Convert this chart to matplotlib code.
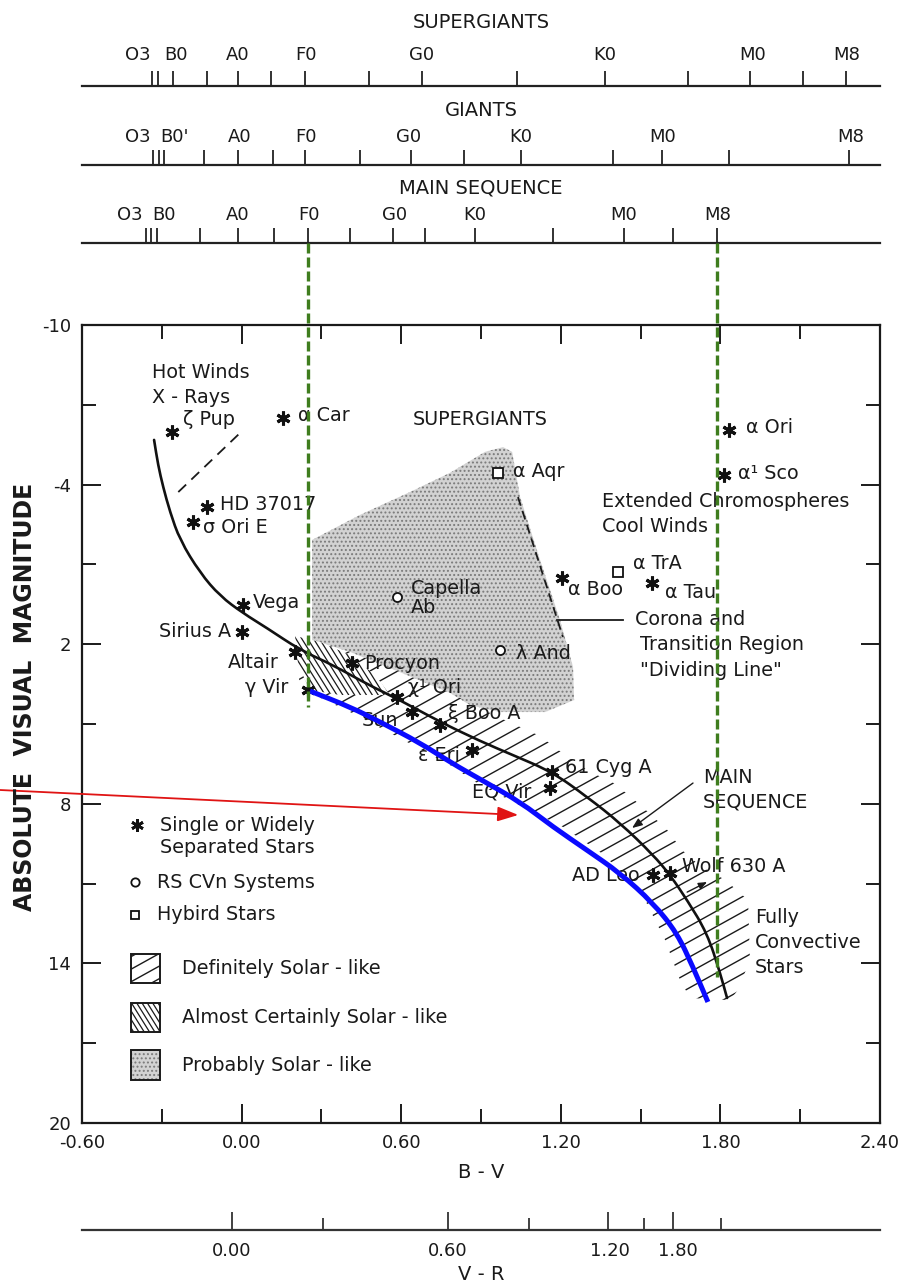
import numpy as np
import matplotlib
matplotlib.use("Agg")
import matplotlib.pyplot as plt
from matplotlib.patches import Polygon, Rectangle, PathPatch
from matplotlib.path import Path
from matplotlib.collections import LineCollection
from matplotlib.ticker import FixedLocator, FuncFormatter

plt.rcParams['font.family'] = ['DejaVu Sans']
plt.rcParams['axes.unicode_minus'] = False
plt.rcParams['hatch.linewidth'] = 0.9

# ---------------- spectral-type scales (positions in B-V) ----------------
sg_ticks = [-0.337, -0.314, -0.258, -0.130, -0.014, 0.111, 0.238, 0.479, 0.678,
            1.036, 1.366, 1.678, 1.911, 2.110, 2.272]
sg_types = ["O3", "B0", "A0", "F0", "G0", "K0", "M0", "M8"]
sg_type_bv = [-0.389, -0.248, -0.014, 0.241, 0.678, 1.365, 1.923, 2.276]

gi_ticks = [-0.333, -0.310, -0.292, -0.141, -0.014, 0.118, 0.238, 0.445, 0.637,
            0.836, 1.050, 1.396, 1.580, 1.832, 2.283]
gi_types = ["O3", "B0'", "A0", "F0", "G0", "K0", "M0", "M8"]
gi_type_bv = [-0.389, -0.254, -0.006, 0.241, 0.629, 1.049, 1.584, 2.288]

ms_ticks = [-0.359, -0.341, -0.318, -0.156, -0.014, 0.122, 0.250, 0.407, 0.569,
            0.689, 0.877, 1.170, 1.437, 1.621, 1.786]
ms_types = ["O3", "B0", "A0", "F0", "G0", "K0", "M0", "M8"]
ms_type_bv = [-0.420, -0.292, -0.014, 0.255, 0.576, 0.876, 1.437, 1.789]

# V-R scale expressed along the B-V axis
vr_ticks = [-0.036, 0.306, 0.776, 1.080, 1.377, 1.513, 1.621, 1.802]
vr_major = [True, False, True, False, True, False, True, False]
vr_labels = ["0.00", "0.60", "1.20", "1.80"]
vr_label_bv = [-0.036, 0.776, 1.385, 1.640]

# ---------------- curves ----------------
ms_bv = [-0.329, -0.314, -0.295, -0.269, -0.232, -0.156, -0.081, 0.005, 0.095,
         0.220, 0.343, 0.471, 0.595, 0.746, 0.896, 1.020, 1.167, 1.299, 1.423,
         1.547, 1.611, 1.675, 1.750, 1.799, 1.825]
ms_mv = [-5.68, -4.74, -3.91, -2.97, -1.92, -0.68, 0.19, 0.83, 1.39,
         2.22, 2.78, 3.50, 4.10, 4.92, 5.64, 6.17, 6.80, 7.74, 8.72,
         9.92, 10.68, 11.62, 12.86, 14.36, 15.30]

blue_bv = [0.257, 0.408, 0.520, 0.671, 0.783, 0.915, 1.047, 1.171, 1.298,
           1.422, 1.547, 1.637, 1.697, 1.753]
blue_mv = [3.76, 4.36, 4.92, 5.71, 6.43, 7.18, 7.93, 8.87, 9.74,
           10.60, 11.73, 12.86, 14.14, 15.45]

# "Definitely solar-like" band
band_bv = [0.205, 0.408, 0.595, 0.783, 0.971, 1.122, 1.216, 1.310, 1.393, 1.460,
           1.528, 1.600, 1.656, 1.724, 1.818, 1.904, 1.911, 1.866, 1.836, 1.686,
           1.648, 1.592, 1.517, 1.423, 1.347, 1.197, 1.095, 0.896, 0.783, 0.595,
           0.408, 0.257, 0.219]
band_mv = [1.69, 2.29, 3.05, 3.83, 4.77, 5.45, 6.17, 6.80, 7.18, 7.71,
           8.31, 8.98, 9.74, 10.34, 10.86, 11.62, 13.87, 15.00, 15.38, 15.30,
           14.62, 13.12, 11.62, 10.49, 9.81, 8.80, 8.31, 7.29, 6.54, 5.53,
           4.55, 3.83, 3.72]

# "Almost certainly solar-like" patch
dense_bv = [0.201, 0.295, 0.408, 0.502, 0.558, 0.370, 0.257, 0.212]
dense_mv = [1.69, 1.92, 2.41, 3.16, 3.91, 3.91, 3.72, 2.78]

# "Probably solar-like" region
stip_bv = [0.265, 0.445, 0.633, 0.783, 0.915, 0.983, 1.017, 1.047, 1.122, 1.197,
           1.246, 1.250, 1.141, 0.971, 0.859, 0.783, 0.595, 0.408, 0.265]
stip_mv = [-1.92, -2.86, -3.72, -4.44, -5.23, -5.41, -5.23, -3.53, -1.17, 1.09,
           2.86, 4.10, 4.55, 4.55, 4.29, 3.83, 3.05, 2.29, 1.84]

# dividing line and guide lines
divide_bv = [1.039, 1.208]
divide_mv = [-3.53, 1.73]
hotwind_bv = [-0.238, -0.006]
hotwind_mv = [-3.72, -5.94]

# ---------------- stars ----------------
star_names = ["ζ Pup", "α Car", "HD 37017", "σ Ori E", "Vega", "Sirius A", "Altair",
              "γ Vir", "Procyon", "χ¹ Ori", "Sun", "ξ Boo A", "ε Eri", "61 Cyg A",
              "EQ Vir", "AD Leo", "Wolf 630 A", "α Ori", "α¹ Sco", "α Boo", "α Tau"]
star_bv = [-0.262, 0.156, -0.130, -0.183, 0.005, 0.002, 0.201, 0.250, 0.415, 0.584,
           0.641, 0.746, 0.866, 1.167, 1.159, 1.547, 1.611, 1.833, 1.814, 1.204, 1.543]
star_mv = [-5.98, -6.50, -3.16, -2.59, 0.53, 1.54, 2.29, 3.72, 2.71, 3.98,
           4.55, 5.04, 5.98, 6.80, 7.41, 10.68, 10.60, -6.05, -4.36, -0.49, -0.30]

hybrid_names = ["α Aqr", "α TrA"]
hybrid_bv = [0.964, 1.415]
hybrid_mv = [-4.44, -0.71]

rscvn_names = ["Capella\nAb", "λ And"]
rscvn_bv = [0.584, 0.971]
rscvn_mv = [0.23, 2.22]

# label placement (pixel offsets from each mark, alignment)
label_offset = {
    "ζ Pup": (11, 12, "left"), "α Car": (15, 3, "left"), "HD 37017": (13, 2, "left"),
    "σ Ori E": (10, -5, "left"), "Vega": (10, 3, "left"), "Sirius A": (-11, 0, "right"),
    "Altair": (-16, -11, "right"), "γ Vir": (-20, 2, "right"), "Procyon": (12, 0, "left"),
    "χ¹ Ori": (11, 9, "left"), "Sun": (-14, -8, "right"), "ξ Boo A": (8, 12, "left"),
    "ε Eri": (-12, -5, "right"), "61 Cyg A": (13, 4, "left"), "EQ Vir": (-19, -4, "right"),
    "AD Leo": (-13, 0, "right"), "Wolf 630 A": (12, 6, "left"), "α Ori": (17, 3, "left"),
    "α¹ Sco": (14, 2, "left"), "α Boo": (6, -12, "left"), "α Tau": (13, -9, "left"),
    "α Aqr": (15, 1, "left"), "α TrA": (15, 9, "left"),
    "Capella\nAb": (14, -1, "left"), "λ And": (16, -3, "left"),
}

# free-standing notes (B-V, Mv of the left edge)
notes = [("Hot Winds", -0.337, -8.23), ("X - Rays", -0.337, -7.29),
         ("SUPERGIANTS", 0.644, -6.43),
         ("Extended Chromospheres", 1.355, -3.35), ("Cool Winds", 1.355, -2.41),
         ("Corona and", 1.479, 1.09), ("Transition Region", 1.498, 2.03),
         ("\"Dividing Line\"", 1.498, 2.97),
         ("MAIN", 1.734, 7.03), ("SEQUENCE", 1.734, 7.93),
         ("Fully", 1.930, 12.29), ("Convective", 1.930, 13.20), ("Stars", 1.930, 14.14)]

# ---------------- figure ----------------
W, H = 907, 1286
fig = plt.figure(figsize=(W / 100, H / 100), dpi=100)
fig.patch.set_facecolor("white")

ax = fig.add_axes([82 / W, (H - 1123) / H, 798 / W, 798 / H])
ax.set_xlim(-0.6, 2.4)
ax.set_ylim(20, -10)
for s in ax.spines.values():
    s.set_linewidth(1.6)
    s.set_color("#1a1a1a")
ax.xaxis.set_major_locator(FixedLocator([-0.6, 0.0, 0.6, 1.2, 1.8, 2.4]))
ax.xaxis.set_minor_locator(FixedLocator([-0.3, 0.3, 0.9, 1.5, 2.1]))
ax.yaxis.set_major_locator(FixedLocator([-10, -4, 2, 8, 14, 20]))
ax.yaxis.set_minor_locator(FixedLocator([-7, -1, 5, 11, 17]))
ax.xaxis.set_major_formatter(FuncFormatter(lambda v, p: f"{v:.2f}"))
ax.yaxis.set_major_formatter(FuncFormatter(lambda v, p: f"{v:.0f}"))
ax.tick_params(which="both", direction="in", top=True, right=True, width=1.4,
               colors="#1a1a1a", labelsize=13)
ax.tick_params(which="major", length=14)
ax.tick_params(which="minor", length=10)
ax.tick_params(axis="y", pad=8)
ax.tick_params(axis="x", pad=8)

TXT = dict(fontsize=13.8, color="#1a1a1a")


def hatch(axis, clip, angle, spacing_px, lw, z):
    th = np.deg2rad(angle)
    d = np.array([np.cos(th), np.sin(th)])
    n = np.array([-np.sin(th), np.cos(th)])
    offs = np.arange(-1.6, 1.6, spacing_px / 798.0)
    segs = [np.array([c * n - 2 * d + 0.5, c * n + 2 * d + 0.5]) for c in offs]
    lc = LineCollection(segs, colors="#1a1a1a", linewidths=lw,
                        transform=axis.transAxes, zorder=z)
    axis.add_collection(lc, autolim=False)
    lc.set_clip_path(clip)


def smooth(xs, ys):
    """Quadratic-Bezier path through the midpoints of a polyline."""
    p = np.column_stack([xs, ys])
    mid = (p[:-1] + p[1:]) / 2
    verts = [p[0], mid[0]]
    codes = [Path.MOVETO, Path.LINETO]
    for i in range(1, len(p) - 1):
        verts += [p[i], mid[i]]
        codes += [Path.CURVE3, Path.CURVE3]
    verts.append(p[-1])
    codes.append(Path.LINETO)
    return Path(verts, codes)


# probably solar-like (stippled)
stip = Polygon(np.column_stack([stip_bv, stip_mv]), closed=True, facecolor="#d2d2d2",
               edgecolor="#7a7a7a", hatch="....", lw=0, zorder=1)
ax.add_patch(stip)

# definitely solar-like (hatched band)
band = Polygon(np.column_stack([band_bv, band_mv]), closed=True, facecolor="none",
               edgecolor="none", zorder=2)
ax.add_patch(band)
hatch(ax, band, 29, 13.5, 1.0, 2)

# almost certainly solar-like
dense = Polygon(np.column_stack([dense_bv, dense_mv]), closed=True, facecolor="white",
                edgecolor="none", zorder=2.1)
ax.add_patch(dense)
hatch(ax, dense, -58, 5, 0.9, 2.2)

# main sequence and dividing lines
ax.add_patch(PathPatch(smooth(ms_bv, ms_mv), fill=False, edgecolor="#111111",
                       lw=1.9, zorder=3, capstyle="round"))
ax.plot(divide_bv, divide_mv, color="#1a1a1a", lw=1.3, ls=(0, (5, 3)), zorder=3)
ax.plot(hotwind_bv, hotwind_mv, color="#1a1a1a", lw=1.3, ls=(0, (6, 4)), zorder=3)
ax.plot([1.186, 1.434], [1.09, 1.09], color="#1a1a1a", lw=1.3, zorder=3)
ax.annotate("", xy=(1.468, 8.91), xytext=(1.697, 7.22),
            arrowprops=dict(arrowstyle="-|>,head_length=0.5,head_width=0.2",
                            color="#1a1a1a", lw=1.0, mutation_scale=12,
                            shrinkA=0, shrinkB=0), zorder=3)
ax.annotate("", xy=(1.750, 10.94), xytext=(1.675, 11.32),
            arrowprops=dict(arrowstyle="-|>,head_length=0.5,head_width=0.2",
                            color="#1a1a1a", lw=1.0, mutation_scale=10,
                            shrinkA=0, shrinkB=0), zorder=3)

# stars
ax.plot(star_bv, star_mv, ls="none", marker=(6, 2, 0), ms=10, mew=2.2,
        color="#111111", zorder=5)
ax.plot(hybrid_bv, hybrid_mv, ls="none", marker="s", ms=6.5, mew=1.3,
        mfc="white", mec="#111111", zorder=5)
ax.plot(rscvn_bv, rscvn_mv, ls="none", marker="o", ms=6.5, mew=1.3,
        mfc="white", mec="#111111", zorder=5)

for names, xs, ys in ((star_names, star_bv, star_mv),
                      (hybrid_names, hybrid_bv, hybrid_mv),
                      (rscvn_names, rscvn_bv, rscvn_mv)):
    for nm, x, y in zip(names, xs, ys):
        dx, dy, ha = label_offset[nm]
        ax.annotate(nm, xy=(x, y), xytext=(dx, dy), textcoords="offset pixels",
                    ha=ha, va="center", linespacing=1.0, zorder=6, **TXT)

for txt, x, y in notes:
    ax.text(x, y, txt, ha="left", va="center", zorder=6, **TXT)

# blue reference line
ax.add_patch(PathPatch(smooth(blue_bv, blue_mv), fill=False, edgecolor="#0a0aff",
                       lw=3.6, zorder=7, capstyle="butt"))

# legend
ax.plot([0.069], [0.373], marker=(6, 2, 0), ms=9, mew=2, color="#111111",
        transform=ax.transAxes, zorder=6)
ax.text(0.098, 0.373, "Single or Widely", transform=ax.transAxes, va="center", **TXT)
ax.text(0.098, 0.345, "Separated Stars", transform=ax.transAxes, va="center", **TXT)
ax.plot([0.066], [0.302], marker="o", ms=6, mew=1.3, mfc="white", mec="#111111",
        transform=ax.transAxes, zorder=6)
ax.text(0.094, 0.302, "RS CVn Systems", transform=ax.transAxes, va="center", **TXT)
ax.plot([0.066], [0.261], marker="s", ms=6, mew=1.3, mfc="white", mec="#111111",
        transform=ax.transAxes, zorder=6)
ax.text(0.094, 0.261, "Hybird Stars", transform=ax.transAxes, va="center", **TXT)

box_w = 0.037
boxes = [(0.175, "Definitely Solar - like"), (0.114, "Almost Certainly Solar - like"),
         (0.054, "Probably Solar - like")]
for i, (yb, lab) in enumerate(boxes):
    if i == 2:
        r = Rectangle((0.061, yb), box_w, box_w, transform=ax.transAxes,
                      facecolor="#d2d2d2", edgecolor="#7a7a7a", hatch="....", lw=0,
                      zorder=5)
        ax.add_patch(r)
    else:
        r = Rectangle((0.061, yb), box_w, box_w, transform=ax.transAxes,
                      facecolor="white", edgecolor="none", zorder=5)
        ax.add_patch(r)
        if i == 0:
            hatch(ax, r, 29, 11, 1.0, 5.1)
        else:
            hatch(ax, r, -58, 4.5, 0.9, 5.1)
    ax.add_patch(Rectangle((0.061, yb), box_w, box_w, transform=ax.transAxes,
                           facecolor="none", edgecolor="#1a1a1a", lw=1.4, zorder=5.5))
    ax.text(0.125, yb + box_w / 2, lab, transform=ax.transAxes, va="center", **TXT)

# red pointer
ax.annotate("", xy=(1.04, 8.42), xycoords="data",
            xytext=(0.0, 1 - 790 / H), textcoords="figure fraction",
            arrowprops=dict(arrowstyle="-|>,head_length=0.9,head_width=0.32",
                            color="#e01414", lw=1.3, mutation_scale=14,
                            shrinkA=0, shrinkB=0),
            annotation_clip=False, zorder=8)

# ---------------- overlay: spectral scales, V-R scale, guide lines ----------------
ov = fig.add_axes([82 / W, 0, 798 / W, 1], zorder=5)
ov.set_xlim(-0.6, 2.4)
ov.set_ylim(H, 0)
ov.axis("off")

scales = [("SUPERGIANTS", 22, 55, 86, sg_ticks, sg_types, sg_type_bv),
          ("GIANTS", 110, 137, 165, gi_ticks, gi_types, gi_type_bv),
          ("MAIN SEQUENCE", 188, 215, 243, ms_ticks, ms_types, ms_type_bv)]
for title, ty, ly, base, ticks, types, tbv in scales:
    ov.plot([-0.6, 2.4], [base, base], color="#222222", lw=1.6, clip_on=False)
    ov.vlines(ticks, base - 15, base, color="#222222", lw=1.3)
    ov.text(0.9, ty, title, ha="center", va="center", fontsize=14, color="#1a1a1a")
    for t, x in zip(types, tbv):
        ov.text(x, ly, t, ha="center", va="center", fontsize=13, color="#1a1a1a")

# V-R scale
vr_base = 1230
ov.plot([-0.6, 2.4], [vr_base, vr_base], color="#333333", lw=1.6, clip_on=False)
for x, big in zip(vr_ticks, vr_major):
    ov.vlines(x, vr_base - (18 if big else 12), vr_base, color="#333333", lw=1.3)
for t, x in zip(vr_labels, vr_label_bv):
    ov.text(x, 1251, t, ha="center", va="center", fontsize=13, color="#1a1a1a")
ov.text(0.9, 1274, "V - R", ha="center", va="center", fontsize=14, color="#1a1a1a")
ov.text(0.9, 1173, "B - V", ha="center", va="center", fontsize=14, color="#1a1a1a")

# green guide lines at main-sequence F0 and M8
green = "#3f7d1e"
ov.plot([ms_ticks[6], ms_ticks[6]], [243, 707], color=green, lw=2.4, ls=(0, (3, 1.2)))
ov.plot([ms_ticks[-1], ms_ticks[-1]], [243, 977], color=green, lw=2.4, ls=(0, (3, 1.2)))

fig.text(25 / W, 1 - 697 / H, "ABSOLUTE  VISUAL  MAGNITUDE", rotation=90,
         ha="center", va="center", fontsize=17, fontweight="bold", color="#1a1a1a")

fig.savefig("out.png", dpi=100, facecolor="white")
